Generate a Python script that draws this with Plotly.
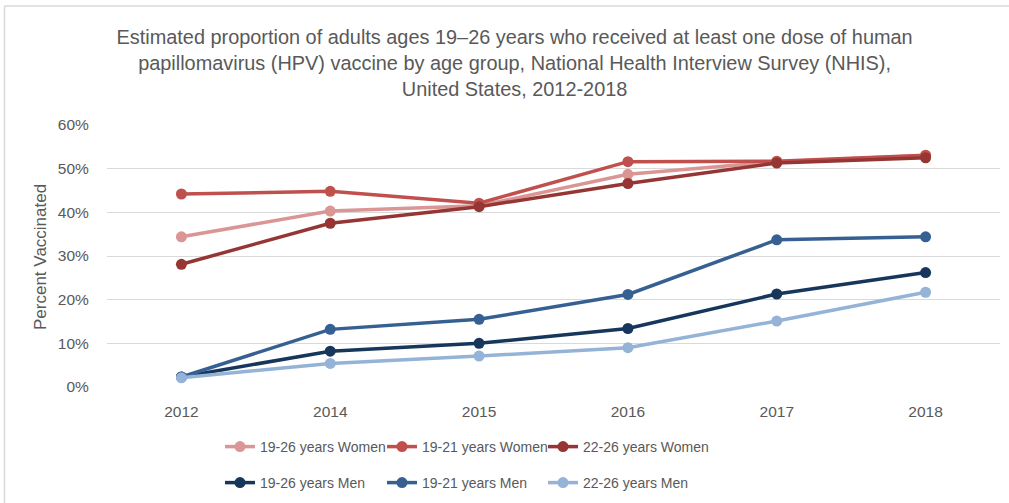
import plotly.graph_objects as go

years = ["2012", "2014", "2015", "2016", "2017", "2018"]

women_19_26 = [34.4, 40.3, 41.5, 48.7, 51.6, 53.0]
women_19_21 = [44.2, 44.8, 42.1, 51.6, 51.7, 53.1]
women_22_26 = [28.1, 37.5, 41.3, 46.6, 51.3, 52.5]
men_19_26 = [2.3, 8.2, 10.0, 13.4, 21.3, 26.2]
men_19_21 = [2.3, 13.2, 15.5, 21.2, 33.7, 34.4]
men_22_26 = [2.1, 5.4, 7.1, 9.0, 15.1, 21.7]

series_names = ["19-26 years Women", "19-21 years Women", "22-26 years Women",
                "19-26 years Men", "19-21 years Men", "22-26 years Men"]
series_values = [women_19_26, women_19_21, women_22_26, men_19_26, men_19_21, men_22_26]
series_colors = ["#DA9694", "#C0504D", "#963634", "#16365C", "#366092", "#95B3D7"]

FONT = "Liberation Sans, Arial, sans-serif"
GRAY = "#595959"

L, R, T, B = 107, 9, 125, 116
PW, PH = 1009 - L - R, 503 - T - B

# legend slot positions (pixels): columns x, rows y
leg_x = [225, 387, 548]
leg_y = [447, 483]

fig = go.Figure()
legend_layout = {}
for i, (name, vals, color) in enumerate(zip(series_names, series_values, series_colors)):
    lg = "legend" if i == 0 else f"legend{i + 1}"
    fig.add_trace(go.Scatter(
        x=years, y=vals, name=name, mode="lines+markers",
        line=dict(color=color, width=3.5),
        marker=dict(color=color, size=11),
        legend=lg,
    ))
    px = leg_x[i % 3]
    py = leg_y[i // 3]
    legend_layout[lg] = dict(
        orientation="h", xanchor="left", yanchor="middle",
        x=(px - 5 - L) / PW, y=(387 - py) / PH,
        font=dict(size=14, color=GRAY), itemwidth=30,
        bgcolor="rgba(0,0,0,0)",
    )

fig.update_layout(
    width=1009, height=503,
    margin=dict(l=L, r=R, t=T, b=B, autoexpand=False),
    paper_bgcolor="white", plot_bgcolor="white",
    font=dict(family=FONT, color=GRAY, size=14),
    title=dict(
        text="Estimated proportion of adults ages 19–26 years who received at least one dose of human<br>"
             "papillomavirus (HPV) vaccine by age group, National Health Interview Survey (NHIS),<br>"
             "United States, 2012-2018",
        x=0.51, xanchor="center", y=1 - 44 / 503, yanchor="middle",
        font=dict(family=FONT, size=19.9, color=GRAY),
    ),
    xaxis=dict(
        type="category", range=[-0.5, 5.5], showgrid=False, zeroline=False, showline=False,
        tickfont=dict(size=15.5, color=GRAY), automargin=False,
        ticks="outside", ticklen=10, tickcolor="rgba(0,0,0,0)",
    ),
    yaxis=dict(
        range=[0, 60], dtick=10, ticksuffix="%", showgrid=True,
        gridcolor="#D9D9D9", gridwidth=1.3, zeroline=False, showline=False,
        tickfont=dict(size=15.5, color=GRAY), automargin=False,
        ticks="outside", ticklen=14, tickcolor="rgba(0,0,0,0)",
    ),
    showlegend=True,
    **legend_layout,
)

fig.add_annotation(
    text="Percent Vaccinated", textangle=-90, xref="paper", yref="paper",
    x=(40 - L) / PW, y=(387 - 257) / PH, xanchor="center", yanchor="middle",
    showarrow=False, font=dict(family=FONT, size=17, color=GRAY),
)

# chart-area border (left and top edges visible in the crop)
fig.add_shape(type="line", xref="paper", yref="paper",
              x0=(4.5 - L) / PW, x1=(4.5 - L) / PW,
              y0=(387 - 503) / PH, y1=(387 - 6) / PH,
              line=dict(color="#D9D9D9", width=1.5))
fig.add_shape(type="line", xref="paper", yref="paper",
              x0=(4.5 - L) / PW, x1=(1009 - L) / PW,
              y0=(387 - 6) / PH, y1=(387 - 6) / PH,
              line=dict(color="#D9D9D9", width=1.5))

fig.write_html("out.html", config={"displayModeBar": False},
               post_script="document.body.style.margin='0';")
